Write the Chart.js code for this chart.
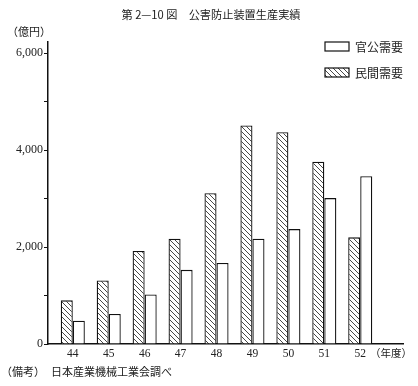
<!DOCTYPE html>
<html>
<head>
<meta charset="utf-8">
<script src="https://cdn.jsdelivr.net/npm/chart.js@4/dist/chart.umd.min.js"></script>
<style>
html,body{margin:0;padding:0;background:#fff;}
#wrap{width:418px;height:386px;}
</style>
</head>
<body>
<div id="wrap"><canvas id="c" width="418" height="386"></canvas></div>
<script>
const years = [44, 45, 46, 47, 48, 49, 50, 51, 52];
const minkan = [900, 1310, 1920, 2170, 3110, 4510, 4370, 3760, 2200]; // 民間需要
const kankou = [480, 620, 1020, 1530, 1670, 2170, 2370, 3010, 3460]; // 官公需要
const yTicks = [0, 1000, 2000, 3000, 4000, 5000, 6000];
const seriesNames = ['民間需要', '官公需要'];
const titleText = '第 2—10 図　公害防止装置生産実績';
const unitText = '（億円）';
const xUnitText = '（年度）';
const noteLabel = '（備考）';
const noteText = '日本産業機械工業会調べ';

const serif = '"Liberation Serif", "DejaVu Serif", serif';
const jp = '"Noto Sans CJK JP", sans-serif';

function makeHatch() {
  const s = 5;
  const p = document.createElement('canvas');
  p.width = s; p.height = s;
  const g = p.getContext('2d');
  g.fillStyle = '#fff';
  g.fillRect(0, 0, s, s);
  g.strokeStyle = '#333';
  g.lineWidth = 0.9;
  g.beginPath();
  g.moveTo(-1, -1); g.lineTo(s + 1, s + 1);
  g.moveTo(-1, s - 1); g.lineTo(1, s + 1);
  g.moveTo(s - 1, -1); g.lineTo(s + 1, 1);
  g.stroke();
  return document.getElementById('c').getContext('2d').createPattern(p, 'repeat');
}
const hatch = makeHatch();

const textPlugin = {
  id: 'texts',
  afterDraw(chart) {
    const ctx = chart.ctx;
    ctx.save();
    ctx.fillStyle = '#222';
    ctx.textBaseline = 'middle';
    ctx.font = '11.2px ' + jp;
    ctx.textAlign = 'center';
    ctx.fillText(titleText, 211, 15);
    ctx.textAlign = 'left';
    ctx.font = '11px ' + jp;
    ctx.fillText(unitText, 7, 32);
    ctx.font = '10.5px ' + jp;
    ctx.fillText(xUnitText, 370, 353);
    ctx.font = '11px ' + jp;
    ctx.fillText(noteLabel, 1, 372);
    ctx.fillText(noteText, 51, 372);
    const ds = chart.data.datasets;
    const order = [1, 0];
    order.forEach((di, k) => {
      const y = 42 + k * 26;
      ctx.fillStyle = ds[di].backgroundColor;
      ctx.fillRect(325, y, 24, 9);
      ctx.strokeStyle = '#111';
      ctx.lineWidth = 1.2;
      ctx.strokeRect(325, y, 24, 9);
      ctx.fillStyle = '#222';
      ctx.font = '12px ' + jp;
      ctx.fillText(ds[di].label, 355, y + 5);
    });
    ctx.restore();
  }
};

new Chart(document.getElementById('c'), {
  type: 'bar',
  data: {
    datasets: [
      {
        label: seriesNames[0],
        data: years.map((x, i) => ({ x: x, y: minkan[i] })),
        backgroundColor: hatch,
        borderColor: '#111',
        borderWidth: 1.3
      },
      {
        label: seriesNames[1],
        data: years.map((x, i) => ({ x: x, y: kankou[i] })),
        backgroundColor: '#fff',
        borderColor: '#111',
        borderWidth: 1.3
      }
    ]
  },
  options: {
    responsive: false,
    animation: false,
    layout: { padding: { top: 42, right: 15, left: 0, bottom: 0 } },
    datasets: { bar: { categoryPercentage: 0.67, barPercentage: 1.0 } },
    plugins: {
      legend: { display: false },
      title: { display: false },
      tooltip: { enabled: false }
    },
    scales: {
      x: {
        type: 'linear',
        offset: false,
        min: 43.31,
        max: 53.19,
        afterBuildTicks: s => { s.ticks = years.map(v => ({ value: v })); },
        afterFit: s => { s.height = 42; },
        ticks: {
          autoSkip: false,
          maxRotation: 0,
          padding: 3,
          color: '#222',
          font: { family: serif, size: 11.5 },
          callback: v => String(v)
        },
        grid: { display: true, offset: false, drawOnChartArea: false, drawTicks: false },
        border: { display: true, color: '#111', width: 1.5 }
      },
      y: {
        min: 0,
        max: 6230,
        afterBuildTicks: s => { s.ticks = yTicks.map(v => ({ value: v })); },
        afterFit: s => { s.width = 48; },
        ticks: {
          padding: 1,
          color: '#222',
          font: { family: serif, size: 12 },
          callback: v => (v % 2000 === 0 ? v.toLocaleString('en-US') : '')
        },
        grid: { display: true, drawOnChartArea: false, drawTicks: true, tickLength: 4, color: '#111', tickWidth: 1 },
        border: { display: true, color: '#111', width: 1.5 }
      }
    }
  },
  plugins: [textPlugin]
});
</script>
</body>
</html>
